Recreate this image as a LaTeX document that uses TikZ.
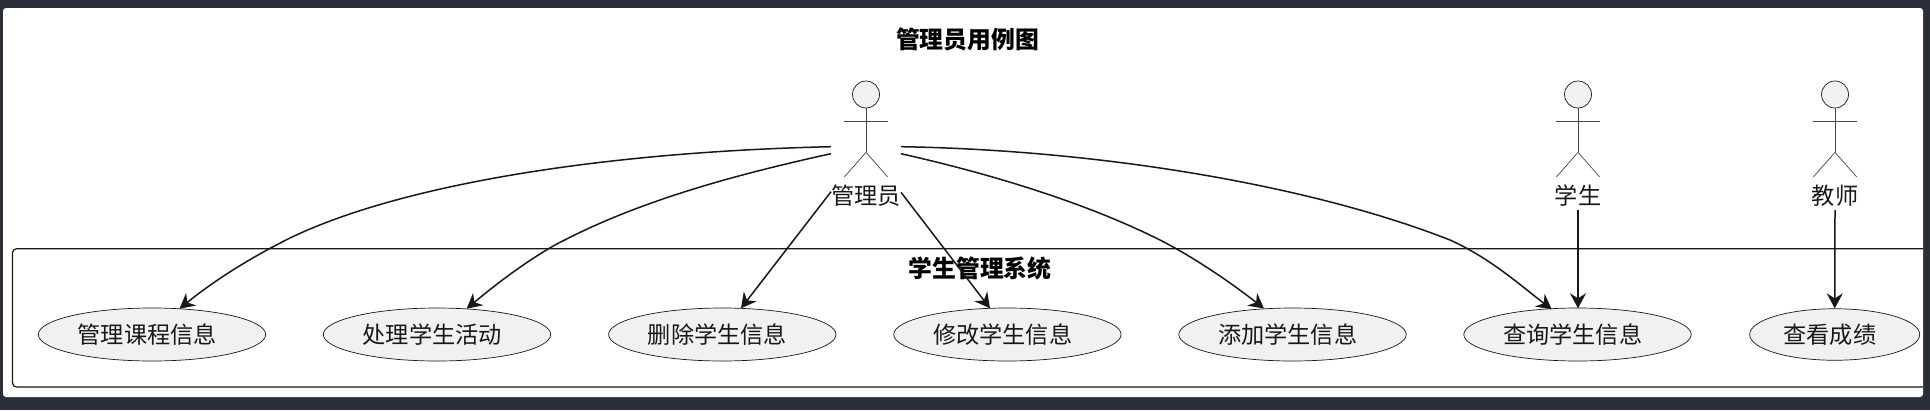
\documentclass[tikz,border=0pt]{standalone}
\usepackage{fontspec}
\setmainfont{Noto Sans CJK SC}
\usetikzlibrary{shapes.geometric,arrows.meta}
\definecolor{bgdark}{HTML}{2A2E38}
\definecolor{ink}{HTML}{181818}
\definecolor{usefill}{HTML}{F1F1F1}
\tikzset{
  x=1pt,y=-1pt,
  panel/.style={fill=white,draw=none,rounded corners=3pt},
  frameline/.style={draw=ink,line width=1.2pt,rounded corners=4pt},
  titletext/.style={font=\fontsize{23.8}{26}\selectfont\bfseries,text=black,inner sep=0pt},
  usecase/.style={ellipse,draw=ink,line width=0.7pt,fill=usefill,inner sep=0pt,minimum height=53pt,minimum width=227.4pt,font=\fontsize{23.2}{26}\selectfont,text=ink},
  actorhead/.style={circle,draw=ink,line width=0.7pt,fill=usefill,minimum size=27pt,inner sep=0pt},
  actorline/.style={draw=ink!80,line width=0.7pt},
  actorname/.style={font=\fontsize{23.2}{26}\selectfont,text=ink,inner sep=0pt},
  arr/.style={draw=ink,line width=1.5pt,-{Stealth[length=15pt,width=16pt,inset=5pt]}},
}
\newcommand{\usetxt}[1]{#1\kern9.5pt}
\begin{document}
\begin{tikzpicture}
\useasboundingbox (0,0) rectangle (1930,410);
\fill[bgdark] (0,0) rectangle (1930,410);
\path[panel] (3,8) rectangle (1923,397);
\begin{scope}
  \clip (3,8) rectangle (1923,397);
  \path[frameline] (12.5,248.7) rectangle (1950,387);
\end{scope}
\node[titletext] (diagramtitle) at (967.5,39.5) {管理员用例图};
\node[titletext] (systemtitle) at (980,268) {学生管理系统};

% use cases
\node[usecase] (e1) at (152,334.5) {\usetxt{管理课程信息}};
\node[usecase] (e2) at (437,334.5) {\usetxt{处理学生活动}};
\node[usecase] (e3) at (722.3,334.5) {\usetxt{删除学生信息}};
\node[usecase] (e4) at (1007.4,334.5) {\usetxt{修改学生信息}};
\node[usecase] (e5) at (1292.5,334.5) {\usetxt{添加学生信息}};
\node[usecase] (e6) at (1577.5,334.5) {\usetxt{查询学生信息}};
\node[usecase,minimum width=170pt,minimum height=51.5pt] (e7) at (1834.7,334.5) {\usetxt{查看成绩}};

% actors
\foreach \nm/\xx/\lab in {admin/866/管理员,student/1578/学生,teacher/1835/教师}{
  \node[actorhead] (\nm) at (\xx,94.5) {};
  \coordinate (\nm hip) at (\xx,152.3);
  \draw[actorline] (\nm.south) -- (\nm hip);
  \draw[actorline] (\xx-21.7,121) -- (\xx+21.7,121);
  \draw[actorline] (\xx-21.7,177) -- (\nm hip) -- (\xx+21.7,177);
  \node[actorname] (\nm name) at (\xx,196) {\lab};
}

% connectors
\draw[arr] ([shift={(-35,-49.3)}]adminname.center) .. controls (600,152) and (400,185) .. (290,238)
   .. controls (250,258) and (215,280) .. ([shift={(27.5,-25.8)}]e1.center);
\draw[arr] ([shift={(-35,-42.3)}]adminname.center) .. controls (720,178) and (630,205) .. (555,245)
   .. controls (525,262) and (495,285) .. ([shift={(29.7,-25.8)}]e2.center);
\draw[arr] ([shift={(-35,-4.3)}]adminname.center) -- ([shift={(18.7,-26.2)}]e3.center);
\draw[arr] ([shift={(35,-3.7)}]adminname.center) -- ([shift={(-17.4,-26.2)}]e4.center);
\draw[arr] ([shift={(35,-42.3)}]adminname.center) .. controls (1000,176) and (1090,205) .. (1160,240)
   .. controls (1195,258) and (1230,282) .. ([shift={(-28.5,-26)}]e5.center);
\draw[arr] ([shift={(35,-49.3)}]adminname.center) .. controls (1100,150) and (1310,185) .. (1450,240)
   .. controls (1490,258) and (1520,285) .. ([shift={(-25.8,-25.2)}]e6.center);
\draw[arr] ([yshift=-14pt]studentname.center) -- ([shift={(0.5,-26.2)}]e6.center);
\draw[arr] ([yshift=-14pt]teachername.center) -- (e7.north);
\end{tikzpicture}
\end{document}
